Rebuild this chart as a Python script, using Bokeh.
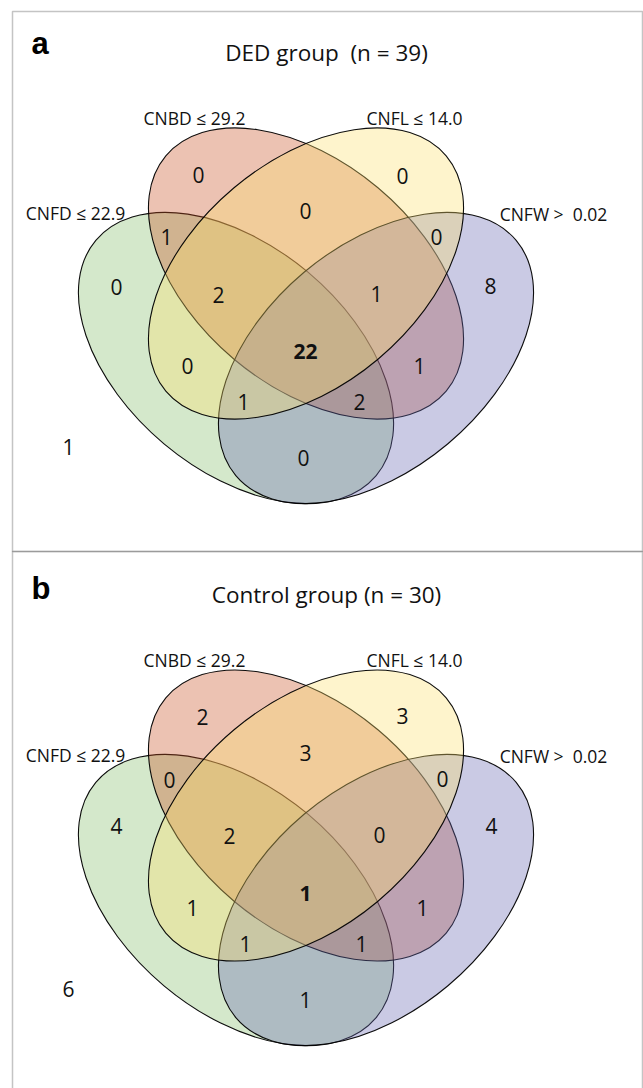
import math
from bokeh.plotting import figure
from bokeh.models import Range1d, BoxAnnotation
from bokeh.core.properties import value
from bokeh.embed import file_html
from bokeh.resources import INLINE

# ---------------- data ----------------
set_labels = ["CNFD ≤ 22.9", "CNBD ≤ 29.2", "CNFL ≤ 14.0", "CNFW >\u00a0 0.02"]
set_colors = ["#84BD6A", "#C95123", "#FCE06D", "#6868B2"]
panel_letters = ["a", "b"]
panel_titles = ["DED group\u00a0 (n = 39)", "Control group (n = 30)"]
# regions: A=CNFD, B=CNBD, C=CNFL, D=CNFW
regions = ["A", "B", "C", "D", "AB", "AC", "AD", "BC", "BD", "CD",
           "ABC", "ABD", "ACD", "BCD", "ABCD", "none"]
ded_counts = [0, 0, 0, 8, 1, 0, 0, 0, 1, 0, 2, 2, 1, 1, 22, 1]
control_counts = [4, 2, 3, 4, 0, 1, 1, 3, 1, 0, 2, 1, 1, 0, 1, 6]
panel_counts = [ded_counts, control_counts]

# ---------------- layout (screen px) ----------------
W, H = 643, 1088
panel_dy = [0, 542]
ell_cx = [235.5, 305.5, 305.5, 375.5]      # A, B, C, D
ell_cy = [357.5, 273.0, 273.0, 357.5]
ell_ang = [-40, -40, 40, 40]
ell_w, ell_h = 366, 224
draw_order = [0, 1, 3, 2]                  # green, red, blue, yellow

label_xy = [(75, 212), (194, 117), (414, 117), (553, 213)]
region_xy = [
    {"A": (116, 279), "B": (198, 167), "C": (402, 168), "D": (490, 278),
     "AB": (166, 229), "AC": (187, 358), "AD": (303, 450), "BC": (305, 203),
     "BD": (419, 358), "CD": (436, 229), "ABC": (218, 287), "ABD": (359, 394),
     "ACD": (243, 394), "BCD": (376, 286), "ABCD": (305, 343), "none": (68, 439)},
    {"A": (116, 818), "B": (202, 709), "C": (402, 708), "D": (491, 818),
     "AB": (169, 772), "AC": (192, 900), "AD": (305, 992), "BC": (305, 745),
     "BD": (422, 900), "CD": (442, 771), "ABC": (229, 828), "ABD": (361, 936),
     "ACD": (245, 936), "BCD": (379, 827), "ABCD": (305, 885), "none": (68, 981)},
]

FONT = value("Open Sans")

p = figure(width=W, height=H, output_backend="svg", toolbar_location=None,
           x_range=Range1d(0, W), y_range=Range1d(-H, 0),
           min_border=0, outline_line_color=None)
p.axis.visible = False
p.xgrid.visible = False
p.ygrid.visible = False
p.background_fill_color = "white"

# panel frames
p.add_layout(BoxAnnotation(left=12, right=642, top=-11, bottom=-551,
                           fill_alpha=0, line_color="#3a3a3a", line_width=1.5))
p.add_layout(BoxAnnotation(left=12, right=642, top=-551, bottom=-1200,
                           fill_alpha=0, line_color="#3a3a3a", line_width=1.5))

for k in range(2):
    dy = panel_dy[k]
    # ellipses
    for i in draw_order:
        p.ellipse(x=[ell_cx[i]], y=[-(ell_cy[i] + dy)], width=ell_w, height=ell_h,
                  angle=math.radians(ell_ang[i]), fill_color=set_colors[i],
                  fill_alpha=0.35, line_color="black", line_width=1.1, line_alpha=0.95)
    # set labels
    p.text(x=[xy[0] for xy in label_xy], y=[-(xy[1] + dy) for xy in label_xy],
           text=set_labels, text_font=FONT, text_font_size="17.5px",
           text_align="center", text_baseline="alphabetic", text_color="#111111")
    # counts
    counts = panel_counts[k]
    xs = [region_xy[k][r][0] for r in regions]
    ys = [-(region_xy[k][r][1] + 7.5) for r in regions]
    txt = [str(c) for c in counts]
    normal = [j for j, r in enumerate(regions) if r != "ABCD"]
    bold = [j for j, r in enumerate(regions) if r == "ABCD"]
    p.text(x=[xs[j] for j in normal], y=[ys[j] for j in normal],
           text=[txt[j] for j in normal], text_font=FONT, text_font_size="21px",
           text_align="center", text_baseline="alphabetic", text_color="#111111")
    p.text(x=[xs[j] for j in bold], y=[ys[j] for j in bold],
           text=[txt[j] for j in bold], text_font=FONT, text_font_size="21px",
           text_font_style="bold",
           text_align="center", text_baseline="alphabetic", text_color="#111111")
    # title
    p.text(x=[326], y=[-(52 + dy)], text=[panel_titles[k]], text_font=FONT,
           text_font_size="22.5px", text_align="center", text_baseline="alphabetic",
           text_color="#111111")
    # panel letter
    p.text(x=[31], y=[-(43 + dy + (3 if k else 0))], text=[panel_letters[k]],
           text_font=value("Liberation Sans"), text_font_size="31px",
           text_font_style="bold", text_align="left", text_baseline="alphabetic",
           text_color="black")

open("out.html", "w").write(file_html(p, INLINE))
